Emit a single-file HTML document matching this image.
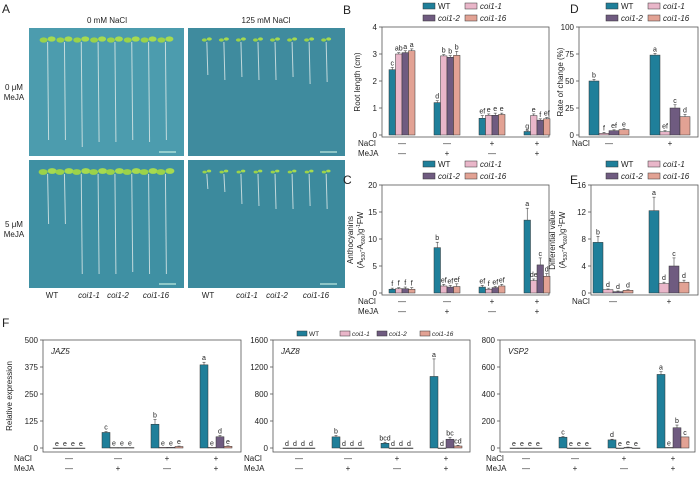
<!DOCTYPE html>
<html><head><meta charset="utf-8">
<style>
body{margin:0;background:#fff;width:700px;height:472px;overflow:hidden;font-family:"Liberation Sans",Arial,sans-serif}
svg text{font-family:"Liberation Sans",Arial,sans-serif}
</style></head>
<body>
<svg id="fig" width="700" height="472" viewBox="0 0 700 472" xmlns="http://www.w3.org/2000/svg">
<g id="photos"></g>
</svg>
<script>
// ---------- data ----------
const genotypes = ["WT","coi1-1","coi1-2","coi1-16"];
const colors = ["#1f7f9a","#e9b6c9","#6f5b80","#e2a294"];
const rootVals = [[2.42,3.0,3.05,3.12],[1.2,2.93,2.88,2.95],[0.62,0.73,0.73,0.76],[0.13,0.72,0.55,0.6]];
const rootErr  = [[0.08,0.05,0.07,0.07],[0.07,0.05,0.06,0.15],[0.1,0.05,0.08,0.05],[0.03,0.06,0.05,0.05]];
const rootLet  = [["c","ab","a","a"],["d","b","b","b"],["ef","e","e","e"],["g","e","f","ef"]];
const rootTicks = [0,1,2,3,4];
const anthoVals = [[0.7,0.8,0.8,0.7],[8.4,1.3,1.1,1.2],[1.1,0.7,1.0,1.3],[13.5,2.3,5.2,3.1]];
const anthoErr  = [[0.2,0.2,0.3,0.3],[1.0,0.3,0.3,0.5],[0.3,0.2,0.2,0.3],[2.2,0.3,1.3,0.5]];
const anthoLet  = [["f","f","f","f"],["b","ef","ef","ef"],["ef","f","ef","ef"],["a","de","c","d"]];
const anthoTicks = [0,5,10,15,20];
const rateVals = [[50,1.5,4,5],[74,3,25,17]];
const rateErr  = [[1.5,1,0.8,1],[1.5,1,3,2]];
const rateLet  = [["b","f","ef","e"],["a","ef","c","d"]];
const rateTicks = [0,25,50,75,100];
const diffVals = [[7.5,0.5,0.2,0.4],[12.2,1.4,4.0,1.6]];
const diffErr  = [[0.9,0.1,0.1,0.1],[2.0,0.2,1.2,0.3]];
const diffLet  = [["b","d","d","d"],["a","d","c","d"]];
const diffTicks = [0,4,8,12,16];
const jaz5Vals = [[0,0,0,0],[72,2,2,2],[110,3,3,7],[385,3,52,8]];
const jaz5Err  = [[0,0,0,0],[4,0,0,0],[22,0,0,2],[12,0,6,2]];
const jaz5Let  = [["e","e","e","e"],["c","e","e","e"],["b","e","e","e"],["a","e","d","e"]];
const jaz5Ticks = [0,125,250,375,500];
const jaz8Vals = [[0,0,0,0],[165,0,0,0],[70,0,0,0],[1060,0,130,30]];
const jaz8Err  = [[0,0,0,0],[20,0,0,0],[15,0,0,0],[260,0,25,10]];
const jaz8Let  = [["d","d","d","d"],["b","d","d","d"],["bcd","d","d","d"],["a","d","bc","cd"]];
const jaz8Ticks = [0,400,800,1200,1600];
const vsp2Vals = [[0,0,0,0],[80,0,0,0],[60,0,4,0],[545,4,150,82]];
const vsp2Err  = [[0,0,0,0],[5,0,0,0],[5,0,3,0],[20,0,20,0]];
const vsp2Let  = [["e","e","e","e"],["c","e","e","e"],["d","e","e","e"],["a","e","b","c"]];
const vsp2Ticks = [0,200,400,600,800];
const naclRow4 = ["—","—","+","+"];
const mejaRow4 = ["—","+","—","+"];
const naclRow2 = ["—","+"];

// ---------- helpers ----------
const svg = document.getElementById('fig');
const NS = "http://www.w3.org/2000/svg";
function el(tag, attrs, parent){const e=document.createElementNS(NS,tag);for(const k in attrs)e.setAttribute(k,attrs[k]);(parent||svg).appendChild(e);return e;}
function txt(x,y,s,size,parent,anchor,extra){const t=el('text',Object.assign({x:x,y:y,'font-size':size,'text-anchor':anchor||'middle',fill:'#222'},extra||{}),parent);t.textContent=s;return t;}

// ---------- photos ----------
const ph = document.getElementById('photos');
function photo(x,y,w,h,bg,roots,leafSize,name){
  const g=el('g',{},ph);
  
  
  el('rect',{x:x,y:y,width:w,height:h,fill:bg},g);
  const n=8;
  for(let i=0;i<n;i++){
    const cx=x+w*0.12+i*(w*0.76/(n-1));
    const L=roots[i];
    el('line',{x1:cx,y1:y+14,x2:cx+1,y2:y+14+L,stroke:'#d8e6e6','stroke-width':1,opacity:0.85},g);
    el('ellipse',{cx:cx-leafSize,cy:y+12,rx:leafSize,ry:leafSize*0.65,fill:'#9bd24a'},g);
    el('ellipse',{cx:cx+leafSize,cy:y+11,rx:leafSize,ry:leafSize*0.65,fill:'#a6da50'},g);
  }
  el('line',{x1:x+w-25,y1:y+h-4,x2:x+w-8,y2:y+h-4,stroke:'#dfe',"stroke-width":1},g);
}
photo(29,28,155,128,'#4c9cae',[98,98,105,100,100,98,100,98],4,'photo-0nacl-0meja');
photo(188,28,157,128,'#3f8b9e',[33,38,35,38,38,35,42,40],2.5,'photo-125nacl-0meja');
photo(29,160,155,128,'#3f90a3',[50,50,100,100,100,98,100,100],4.5,'photo-0nacl-5meja');
photo(188,160,157,128,'#3c8a9d',[15,18,30,32,35,35,32,35],2.2,'photo-125nacl-5meja');
txt(107,23,'0 mM NaCl',8,svg);
txt(266,23,'125 mM NaCl',8,svg);
txt(14,90,'0 μM',8,svg);txt(14,100,'MeJA',8,svg);
txt(14,227,'5 μM',8,svg);txt(14,237,'MeJA',8,svg);
[[52,'WT',0],[89,'coi1-1',1],[118,'coi1-2',1],[156,'coi1-16',1],[208,'WT',0],[247,'coi1-1',1],[277,'coi1-2',1],[316,'coi1-16',1]].forEach(a=>{
  txt(a[0],298,a[1],8,svg,'middle',a[2]?{'font-style':'italic'}:{});
});

// ---------- panel letters ----------
[['A',2,13],['B',343,14],['D',570,13],['C',343,184],['E',570,184],['F',2,327]].forEach(a=>{
  const t=txt(a[1],a[2],a[0],12,svg,'start');
  
  
});

// ---------- bar chart builder ----------
function chart(cfg){
  const g=el('g',{});
  
  
  const {x0,x1,yTop,yZero,yBot,ticks,vals,errs,lets,off,step,bw}=cfg;
  const ymax=ticks[ticks.length-1];
  const Y=v=>yZero-(v/ymax)*(yZero-yTop);
  const X=(gi,bi)=>x0+off+gi*step+(bi-2)*bw;
  el('rect',{x:x0,y:yTop,width:x1-x0,height:yBot-yTop,fill:'none',stroke:'#555','stroke-width':0.8},g);
  ticks.forEach(t=>{
    el('line',{x1:x0-3,x2:x0,y1:Y(t),y2:Y(t),stroke:'#555','stroke-width':0.8},g);
    const lab=txt(x0-5,Y(t)+3,String(t),8,g,'end');
    
    
  });
  vals.forEach((grp,gi)=>{
    grp.forEach((v,bi)=>{
      const x=X(gi,bi);
      const r=el('rect',{x:x,y:Y(v),width:bw,height:Math.max(0.5,yZero-Y(v)),fill:colors[bi],stroke:'#333','stroke-width':0.5},g);
      
      
      const e=errs[gi][bi];
      if(e>0){
        el('line',{x1:x+bw/2,x2:x+bw/2,y1:Y(v),y2:Y(v+e),stroke:'#444','stroke-width':0.6},g);
        el('line',{x1:x+bw/2-1.5,x2:x+bw/2+1.5,y1:Y(v+e),y2:Y(v+e),stroke:'#444','stroke-width':0.6},g);
      }
      const l=txt(x+bw/2,Y(v+e)-2,lets[gi][bi],7,g);
      
      
    });
  });
  const rows=cfg.rows;
  rows.forEach((row,ri)=>{
    const y=yBot+9+ri*10;
    txt(cfg.rowLabelX,y,row.label,8,g,'start');
    row.vals.forEach((s,gi)=>{txt(x0+off+gi*step,y,s,8,g);});
  });
  cfg.ylab.forEach((s,i)=>{
    const cx=cfg.ylabX+i*10, cy=(yTop+yBot)/2;
    const t=txt(cx,cy,'',8,g,'middle',{transform:`rotate(-90 ${cx} ${cy})`});
    t.innerHTML=s;
    
    
  });
  if(cfg.gene){const t=txt(x0+8,yTop+14,cfg.gene,8,g,'start',{'font-style':'italic'});}
}
const absLab='(A<tspan font-size="5" dy="2">530</tspan><tspan dy="-2">-A</tspan><tspan font-size="5" dy="2">600</tspan><tspan dy="-2">)g</tspan><tspan font-size="5" dy="-3">-1</tspan><tspan dy="3">FW</tspan>';

chart({name:'root-length-chart',x0:382,x1:549,yTop:27,yZero:135,yBot:137,ticks:rootTicks,vals:rootVals,errs:rootErr,lets:rootLet,off:20,step:45,bw:6.5,
  rows:[{label:'NaCl',vals:naclRow4},{label:'MeJA',vals:mejaRow4}],rowLabelX:358,ylab:['Root length (cm)'],ylabX:360});
chart({name:'anthocyanins-chart',x0:382,x1:549,yTop:185,yZero:293,yBot:295,ticks:anthoTicks,vals:anthoVals,errs:anthoErr,lets:anthoLet,off:20,step:45,bw:6.5,
  rows:[{label:'NaCl',vals:naclRow4},{label:'MeJA',vals:mejaRow4}],rowLabelX:358,ylab:['Anthocyanins',absLab],ylabX:353});
chart({name:'rate-of-change-chart',x0:579,x1:698,yTop:27,yZero:135,yBot:137,ticks:rateTicks,vals:rateVals,errs:rateErr,lets:rateLet,off:30,step:61,bw:10,
  rows:[{label:'NaCl',vals:naclRow2}],rowLabelX:572,ylab:['Rate of change (%)'],ylabX:563});
chart({name:'differential-value-chart',x0:591,x1:698,yTop:185,yZero:293,yBot:295,ticks:diffTicks,vals:diffVals,errs:diffErr,lets:diffLet,off:22,step:56,bw:10,
  rows:[{label:'NaCl',vals:naclRow2}],rowLabelX:572,ylab:['Differential value',absLab],ylabX:555});
chart({name:'jaz5-chart',x0:43,x1:241,yTop:340,yZero:448,yBot:452,ticks:jaz5Ticks,vals:jaz5Vals,errs:jaz5Err,lets:jaz5Let,off:26,step:49,bw:8,gene:'JAZ5',
  rows:[{label:'NaCl',vals:naclRow4},{label:'MeJA',vals:mejaRow4}],rowLabelX:14,ylab:['Relative expression'],ylabX:12});
chart({name:'jaz8-chart',x0:273,x1:470,yTop:340,yZero:448,yBot:452,ticks:jaz8Ticks,vals:jaz8Vals,errs:jaz8Err,lets:jaz8Let,off:26,step:49,bw:8,gene:'JAZ8',
  rows:[{label:'NaCl',vals:naclRow4},{label:'MeJA',vals:mejaRow4}],rowLabelX:244,ylab:[],ylabX:0});
chart({name:'vsp2-chart',x0:500,x1:695,yTop:340,yZero:448,yBot:452,ticks:vsp2Ticks,vals:vsp2Vals,errs:vsp2Err,lets:vsp2Let,off:26,step:49,bw:8,gene:'VSP2',
  rows:[{label:'NaCl',vals:naclRow4},{label:'MeJA',vals:mejaRow4}],rowLabelX:486,ylab:[],ylabX:0});

// ---------- legends ----------
function legend2(name,x,y){
  const g=el('g',{});
  
  
  const pos=[[x,y],[x+42,y],[x,y+12],[x+42,y+12]];
  genotypes.forEach((gname,i)=>{
    const [px,py]=pos[i];
    const r=el('rect',{x:px,y:py-5,width:12,height:6,fill:colors[i],stroke:'#333','stroke-width':0.5},g);
    
    
    txt(px+15,py+1,gname,8,g,'start',i?{'font-style':'italic'}:{});
  });
}
legend2('legend-b',423,8);
legend2('legend-d',606,8);
legend2('legend-c',423,166);
legend2('legend-e',606,166);
(function(){
  const g=el('g',{});
  
  
  const xs=[297,340,377,420];
  genotypes.forEach((gname,i)=>{
    el('rect',{x:xs[i],y:331,width:10,height:5,fill:colors[i],stroke:'#333','stroke-width':0.5},g);
    txt(xs[i]+12,336,gname,6.5,g,'start',i?{'font-style':'italic'}:{});
  });
})();
</script>
</body></html>
